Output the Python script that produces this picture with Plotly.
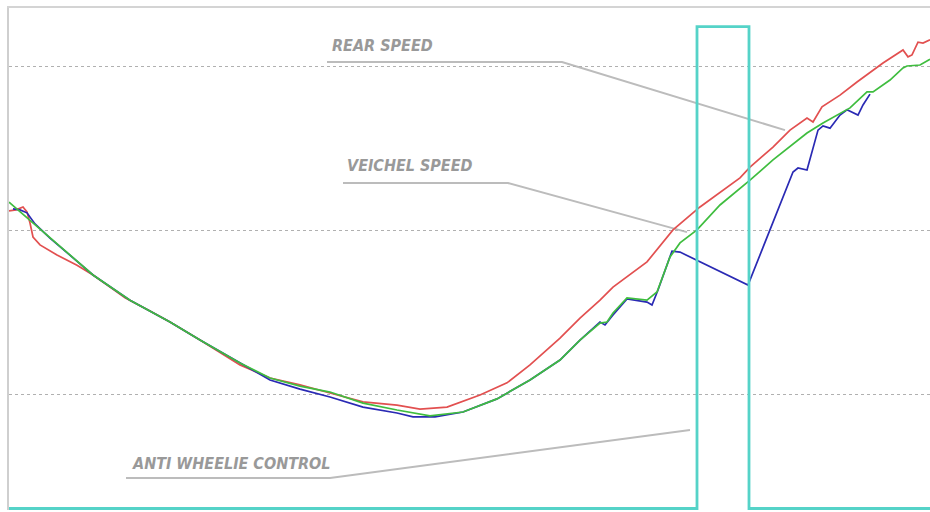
import plotly.graph_objects as go

# ---- data (time in s, speed in km/h) ----
rear_t = [0.00, 0.07, 0.14, 0.18, 0.21, 0.24, 0.31, 0.48, 0.68, 0.84, 1.01, 1.16, 1.41, 1.61, 1.91,
          2.31, 2.61, 2.91, 3.21, 3.54, 3.88, 4.11, 4.38, 4.71, 4.98, 5.21, 5.51, 5.71, 5.91, 6.04,
          6.38, 6.64, 6.91, 7.31, 7.41, 7.64, 7.81, 7.98, 8.04, 8.13, 8.31, 8.48, 8.74, 8.94, 8.99,
          9.03, 9.09, 9.14, 9.21]
rear_v = [106.0, 106.3, 107.2, 105.7, 102.3, 98.0, 95.6, 92.5, 89.4, 86.4, 82.7, 79.4, 75.4, 72.0, 66.5,
          58.9, 54.9, 52.8, 50.3, 47.6, 46.6, 45.4, 46.0, 49.7, 53.4, 58.9, 67.1, 73.2, 78.7, 82.7,
          90.4, 100.2, 107.2, 116.1, 119.4, 125.5, 130.7, 134.4, 133.2, 137.8, 141.4, 145.4, 151.2, 155.2, 153.1,
          153.7, 157.6, 157.3, 158.3]

vehicle_t = [0.00, 0.41, 0.84, 1.21, 1.61, 1.91, 2.31, 2.61, 2.91, 3.21, 3.54, 3.88, 4.21, 4.54, 4.88,
             5.21, 5.51, 5.71, 5.91, 5.98, 6.04, 6.18, 6.38, 6.48, 6.61, 6.71, 6.81, 6.88, 7.11, 7.41,
             7.64, 7.98, 8.14, 8.41, 8.58, 8.64, 8.81, 8.94, 8.98, 9.11, 9.21]
vehicle_v = [108.7, 97.7, 86.4, 78.7, 72.0, 66.5, 59.5, 54.9, 52.4, 50.6, 47.2, 45.1, 43.3, 44.5, 48.5,
             54.3, 60.4, 66.5, 71.7, 72.0, 74.8, 79.4, 78.7, 81.2, 91.9, 96.2, 98.6, 100.2, 107.8, 115.4,
             121.6, 129.8, 132.9, 137.5, 142.4, 142.4, 146.0, 149.7, 150.3, 150.6, 152.4]

front_t = [0.04, 0.11, 0.18, 0.26, 0.41, 0.84, 1.21, 1.61, 1.91, 2.31, 2.61, 2.91, 3.21, 3.54, 3.88,
           4.04, 4.26, 4.54, 4.88, 5.21, 5.51, 5.71, 5.91, 5.96, 6.04, 6.18, 6.38, 6.43, 6.49, 6.63,
           6.71, 7.39, 7.84, 7.89, 7.98, 8.09, 8.14, 8.21, 8.31, 8.38, 8.49, 8.54, 8.61]
front_v = [106.6, 106.3, 105.4, 102.0, 97.7, 86.4, 78.7, 72.0, 66.5, 59.5, 54.3, 51.5, 49.1, 46.0, 44.2,
           43.0, 43.0, 44.5, 48.5, 54.3, 60.4, 66.5, 72.0, 71.1, 74.2, 79.1, 78.1, 77.2, 81.8, 93.7,
           93.4, 83.3, 117.9, 119.1, 118.5, 130.7, 132.0, 131.3, 135.3, 136.9, 135.3, 138.4, 141.7]

awc_t = [0.00, 6.88, 7.40, 9.21]
awc_state = [0, 1, 0, 0]

labels = ["REAR SPEED", "VEICHEL SPEED", "ANTI WHEELIE CONTROL"]
label_pos = [(3.21, 156.7), (3.36, 120.0), (1.21, 28.6)]
leader_t = [[3.18, 5.53, 7.76], [3.34, 4.99, 6.78], [1.17, 3.21, 6.81]]
leader_v = [[151.5, 151.5, 130.7], [114.5, 114.5, 99.5], [24.3, 24.3, 39.0]]

speed_grid = [50, 100, 150]

fig = go.Figure()
fig.add_trace(go.Scatter(x=rear_t, y=rear_v, mode="lines",
                         line=dict(color="#e25050", width=1.7), name="Rear speed"))
fig.add_trace(go.Scatter(x=front_t, y=front_v, mode="lines",
                         line=dict(color="#2a2ab4", width=1.7), name="Front speed"))
fig.add_trace(go.Scatter(x=vehicle_t, y=vehicle_v, mode="lines",
                         line=dict(color="#3fbd3f", width=1.7), name="Vehicle speed"))
fig.add_trace(go.Scatter(x=awc_t, y=awc_state, mode="lines", line_shape="hv",
                         line=dict(color="#55d3c8", width=2.8), yaxis="y2", name="AWC"))

for txt, (lx, ly), lt, lv in zip(labels, label_pos, leader_t, leader_v):
    path = "M " + " L ".join(f"{a},{b}" for a, b in zip(lt, lv))
    fig.add_shape(type="path", path=path, xref="x", yref="y",
                  line=dict(color="#bcbcbc", width=2), layer="below")
    fig.add_annotation(x=lx, y=ly, xref="x", yref="y", text=txt, showarrow=False,
                       xanchor="left", yanchor="middle",
                       font=dict(family="DejaVu Sans Condensed, DejaVu Sans", size=16,
                                 color="#999999", weight="bold", style="italic"))

fig.update_layout(
    width=930, height=512,
    margin=dict(l=9, r=0, t=8, b=2),
    paper_bgcolor="white", plot_bgcolor="white",
    showlegend=False, hovermode=False,
    xaxis=dict(range=[0, 9.21], showgrid=False, zeroline=False, showticklabels=False,
               ticks="", side="top", showline=True, linecolor="#d4d4d4", linewidth=1.5),
    yaxis=dict(range=[14.53, 168.04], tickvals=speed_grid, showgrid=True, gridcolor="#b0b0b0",
               griddash="dot", gridwidth=1, zeroline=False, showticklabels=False, ticks="",
               showline=True, linecolor="#cfcfcf", linewidth=1.5),
    yaxis2=dict(range=[-0.0031, 1.0385], overlaying="y", showgrid=False, zeroline=False,
                showticklabels=False, ticks="", showline=False),
)

fig.write_html(
    "out.html",
    config={"displayModeBar": False},
    post_script="document.body.style.margin='0';document.body.style.overflow='hidden';"
                "document.documentElement.style.overflow='hidden';",
)
